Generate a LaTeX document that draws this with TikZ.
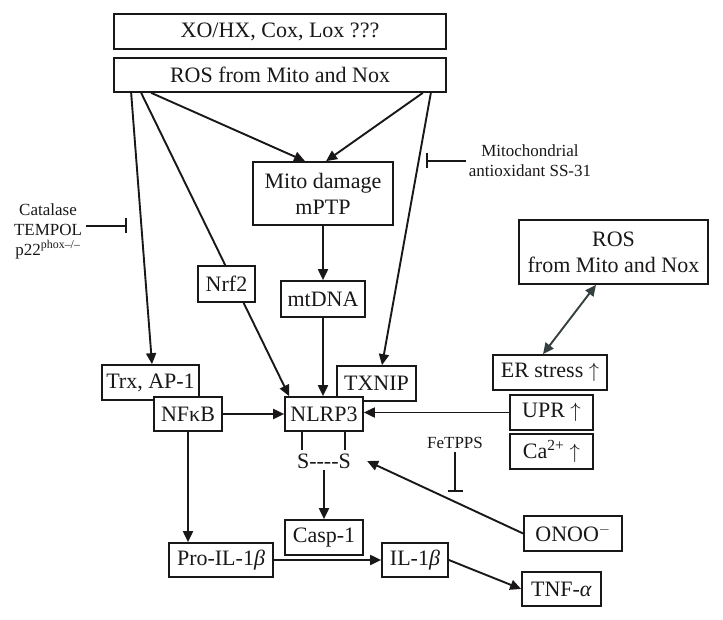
\documentclass[tikz,border=0pt]{standalone}
\usepackage{fontspec}
\setmainfont{Liberation Serif}
\usetikzlibrary{arrows.meta,calc}
\definecolor{ink}{HTML}{1A1718}
\definecolor{slate}{HTML}{34403F}
\begin{document}
\begin{tikzpicture}[x=1pt,y=-1pt,
  box/.style={draw=ink, line width=1.7pt, fill=white, inner sep=0pt, text=ink,
    font=\fontsize{22}{26}\selectfont, align=center},
  lbl/.style={inner sep=0pt, text=ink, font=\fontsize{17}{20}\selectfont, align=center},
  arr/.style={draw=ink, line width=1.9pt, -{Triangle[length=11pt,width=10pt]}},
  ln/.style={draw=ink, line width=1.9pt},
  inh/.style={draw=ink, line width=1.9pt, -{Bar[width=15pt,line width=1.9pt]}},
  dbl/.style={draw=slate, line width=1.9pt, {Triangle[length=11pt,width=10pt]}-{Triangle[length=11pt,width=10pt]}}
]
\useasboundingbox (0,0) rectangle (723,620);

% boxes
\node[box, minimum width=332pt, minimum height=35pt] (xo) at (280,31.5) {XO/HX, Cox, Lox ???};
\node[box, minimum width=332pt, minimum height=34pt] (ros) at (280,75) {ROS from Mito and Nox};
\node[box, minimum width=140pt, minimum height=63pt] (mito) at (323,193.5) {Mito damage\\mPTP};
\node[box, minimum width=84pt, minimum height=36pt] (mtdna) at (323,299) {mtDNA};
\node[box, minimum width=97pt, minimum height=35pt] (trx) at (150.5,382.5) {Trx, AP-1};
\node[box, minimum width=68pt, minimum height=34pt] (nfkb) at (188,414) {NFκB};
\node[box, minimum width=79pt, minimum height=35pt] (txnip) at (376.5,383.5) {TXNIP};
\node[box, minimum width=78pt, minimum height=34pt] (nlrp3) at (324,414) {NLRP3};
\node[box, minimum width=189pt, minimum height=64pt] (rosr) at (613.5,252) {ROS\\from Mito and Nox};
\node[box, minimum width=114pt, minimum height=35pt] (er) at (550,372.5) {ER stress $\uparrow$};
\node[box, minimum width=83pt, minimum height=35pt] (upr) at (551.5,412.5) {UPR $\uparrow$};
\node[box, minimum width=83pt, minimum height=35pt] (ca) at (551.5,451.5) {Ca\textsuperscript{2+} $\uparrow$};
\node[box, minimum width=98pt, minimum height=35pt] (onoo) at (573,533.5) {ONOO$^{-}$};
\node[box, minimum width=78pt, minimum height=35pt] (casp) at (324,537.5) {Casp-1};
\node[box, minimum width=104pt, minimum height=34pt] (pro) at (221,560) {Pro-IL-1\textit{β}};
\node[box, minimum width=66pt, minimum height=34pt] (il) at (415,560) {IL-1\textit{β}};
\node[box, minimum width=79pt, minimum height=34pt] (tnf) at (561.5,589) {TNF-\textit{α}};
\node[inner sep=1pt, text=ink, font=\fontsize{22}{24}\selectfont] (ss) at (324,461) {S-{}-{}-{}-S};

% labels
\node[lbl] (ss31) at (530,161) {Mitochondrial\\antioxidant SS-31};
\node[lbl] (catal) at (48,231) {Catalase\\TEMPOL\\p22\textsuperscript{phox\textendash/\textendash}};
\node[lbl] (fe) at (455,443) {FeTPPS};

% connectors from ROS
\draw[arr] ([xshift=18pt]ros.south west) -- ([xshift=1.5pt]trx.north);
\draw[arr] ([xshift=28pt]ros.south west) -- ([xshift=5pt]nlrp3.north west);
\draw[arr] ([xshift=38pt]ros.south west) -- ([xshift=-18pt]mito.north);
\draw[arr] ([xshift=-24pt]ros.south east) -- ([xshift=3pt]mito.north);
\draw[arr] ([xshift=-16pt]ros.south east) -- ([xshift=5.5pt]txnip.north);

\node[box, minimum width=57pt, minimum height=36pt] (nrf2) at (226.5,284) {Nrf2};

\draw[arr] (mito.south) -- (mtdna.north);
\draw[arr] (mtdna.south) -- (nlrp3.north -| mtdna.south);
\draw[arr] (nfkb.east) -- (nfkb.east -| nlrp3.west);
\draw[arr] (upr.west) -- (upr.west -| nlrp3.east);
\draw[dbl] ([xshift=-7pt]er.north) -- ([xshift=-17.5pt]rosr.south);
\draw[ln] ([xshift=-22pt]nlrp3.south) -- ++(0,18);
\draw[ln] ([xshift=21pt]nlrp3.south) -- ++(0,18);
\draw[arr] (ss.south) -- (casp.north);
\draw[arr] (onoo.west) -- ([xshift=15pt]ss.east);
\draw[arr] (nfkb.south) -- (nfkb.south |- pro.north);
\draw[arr] (pro.east) -- (il.west);
\draw[arr] (il.east) -- (tnf.west);

% inhibitors
\draw[inh] ([xshift=-3pt]ss31.west) -- ++(-40,0);
\draw[inh] ([xshift=4pt,yshift=5pt]catal.east) -- ++(41,0);
\draw[inh] ([yshift=-3pt]fe.south) -- ++(0,40);
\end{tikzpicture}
\end{document}
